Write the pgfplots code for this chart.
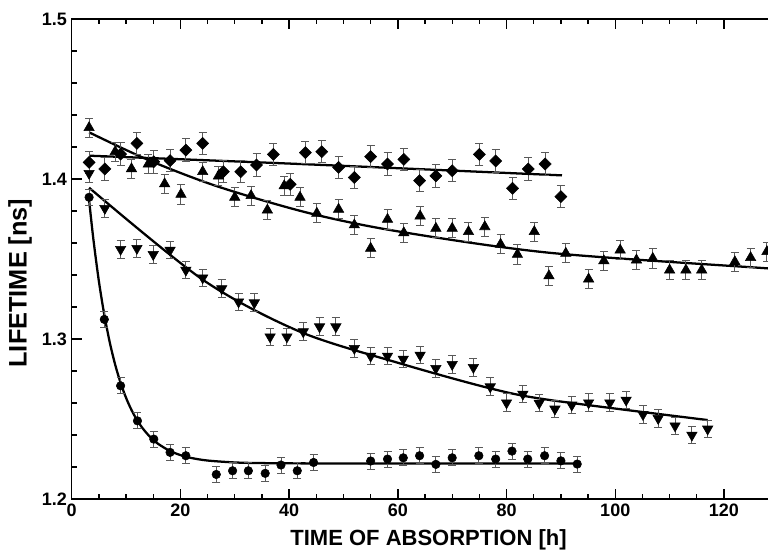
\documentclass[border=0pt]{standalone}
\usepackage{fontspec}
\setmainfont{Liberation Sans}
\usepackage{pgfplots}
\pgfplotsset{compat=1.18}

\pgfplotsset{
  errb/.style={
    error bars/.cd,
      y dir=both, y fixed=#1,
      error bar style={black!65, line width=0.7pt},
      error mark options={rotate=90, black!65, mark size=3pt, line width=0.7pt},
  },
  fit/.style={black, line width=1.7pt, no marks, smooth},
}

\begin{document}
\begin{tikzpicture}
\begin{axis}[
  scale only axis,
  width=529.9pt, height=360pt,
  xmin=0, xmax=130, ymin=1.2, ymax=1.5,
  xtick={0,20,...,120}, minor x tick num=3,
  ytick={1.2,1.3,1.4,1.5}, minor y tick num=4,
  tick align=inside,
  major tick length=7.5pt, minor tick length=3.8pt,
  tick style={black, line width=1pt},
  axis line style={line width=1.2pt},
  /pgf/number format/assume math mode=true,
  yticklabel style={/pgf/number format/fixed, /pgf/number format/fixed zerofill, /pgf/number format/precision=1},
  tick label style={font=\fontsize{13.5}{13.5}\selectfont\bfseries},
  xlabel={TIME OF ABSORPTION [h]},
  ylabel={LIFETIME [ns]},
  xlabel style={font=\fontsize{16.5}{16.5}\selectfont\bfseries, at={(axis description cs:0.505,-0.0854)}, anchor=center},
  ylabel style={font=\fontsize{19}{19}\selectfont\bfseries, at={(axis description cs:-0.0732,0.45)}, anchor=center},
]

% fitted curves
\addplot[fit] coordinates {(3.2,1.4146) (42,1.4094) (90.2,1.4023)};
\addplot[fit] coordinates {(3.2,1.4292) (14.1,1.4119) (27,1.3952) (43.8,1.3786) (60.4,1.3671) (88,1.3539) (128,1.3442) (130,1.3438)};
\addplot[fit] coordinates {(3.2,1.3946) (24.2,1.3369) (42,1.3046) (60.4,1.2848) (77,1.2692) (88,1.2619) (117,1.2494)};
\addplot[fit] coordinates {
  (3.2,1.3869) (4,1.3621) (5,1.3362) (6,1.3152) (7,1.2980) (8,1.2840) (9,1.2726)
  (10,1.2633) (11,1.2557) (12,1.2495) (13,1.2445) (14,1.2404) (15,1.2370)
  (16,1.2343) (18,1.2302) (20,1.2275) (22,1.2257) (25,1.2241) (30,1.2229)
  (35,1.2225) (45,1.2223) (70,1.2222) (93,1.2222)};

% diamonds
\addplot[only marks, mark=square*, mark size=3.2pt, mark options={rotate=45, fill=black}, errb=0.007] coordinates {
  (3.2,1.4104) (6.1,1.4063) (9.0,1.4156) (12.0,1.4223) (15.1,1.4108) (18.1,1.4115)
  (21.0,1.4181) (24.1,1.4223) (27.9,1.4046) (31.1,1.4046) (34.0,1.4088) (37.1,1.4154)
  (40.2,1.3967) (43.0,1.4165) (46.0,1.4171) (49.1,1.4073) (52.0,1.4010) (55.0,1.4140)
  (58.1,1.4094) (61.1,1.4123) (64.0,1.3990) (67.0,1.4020) (70.0,1.4052) (75.0,1.4154)
  (78.0,1.4113) (81.1,1.3942) (84.0,1.4063) (87.1,1.4094) (90.0,1.3890)};

% triangles up
\addplot[only marks, mark=triangle*, mark size=4.5pt, mark options={fill=black}, errb=0.006] coordinates {
  (3.2,1.4321) (8.0,1.4171) (11.0,1.4064) (14.1,1.4094) (17.1,1.3970) (20.1,1.3904)
  (24.1,1.4046) (27.0,1.4019) (30.0,1.3886) (33.0,1.3896) (36.0,1.3806) (39.1,1.3958)
  (42.0,1.3886) (45.1,1.3786) (49.1,1.3811) (52.0,1.3713) (55.0,1.3567) (58.1,1.3748)
  (61.1,1.3664) (64.1,1.3769) (67.0,1.3692) (70.0,1.3692) (73.0,1.3671) (76.0,1.3702)
  (78.9,1.3592) (82.0,1.3529) (85.1,1.3671) (87.8,1.3395) (90.9,1.3536) (95.1,1.3375)
  (97.9,1.3489) (100.9,1.3556) (103.9,1.3494) (106.9,1.3504) (110.0,1.3431) (113.0,1.3431)
  (115.9,1.3431) (122.0,1.3483) (124.9,1.3509) (127.9,1.3546)};

% triangles down
\addplot[only marks, mark=triangle*, mark size=4.5pt, mark options={rotate=180, fill=black}, errb=0.0055] coordinates {
  (3.2,1.4036) (6.1,1.3817) (9.0,1.3561) (12.0,1.3567) (15.0,1.3529) (18.1,1.3556)
  (21.0,1.3431) (24.1,1.3383) (27.6,1.3315) (30.7,1.3233) (33.6,1.3227) (36.5,1.3014)
  (39.6,1.3014) (42.6,1.3046) (45.6,1.3077) (48.6,1.3077) (52.0,1.2942) (55.0,1.2894)
  (58.1,1.2894) (61.0,1.2875) (64.1,1.2900) (67.0,1.2817) (70.0,1.2842) (73.9,1.2823)
  (77.0,1.2702) (80.0,1.2602) (83.0,1.2656) (86.0,1.2600) (88.9,1.2563) (92.0,1.2588)
  (95.1,1.2602) (99.0,1.2602) (102.0,1.2619) (105.1,1.2529) (107.9,1.2504) (111.0,1.2458)
  (114.1,1.2400) (117.0,1.2438)};

% circles
\addplot[only marks, mark=*, mark size=3.2pt, mark options={fill=black}, errb=0.005] coordinates {
  (3.2,1.3886) (6.0,1.3123) (9.0,1.2708) (12.1,1.2489) (15.1,1.2375) (18.1,1.2292)
  (21.0,1.2271) (26.6,1.2154) (29.6,1.2177) (32.5,1.2177) (35.6,1.2161) (38.5,1.2213)
  (41.5,1.2177) (44.5,1.2229) (55.0,1.2238) (58.1,1.2250) (61.0,1.2258) (64.0,1.2271)
  (67.0,1.2217) (70.0,1.2258) (74.9,1.2271) (78.0,1.2250) (81.0,1.2300) (83.9,1.2250)
  (87.0,1.2271) (90.0,1.2239) (93.0,1.2219)};

\coordinate (bbsw) at (axis cs:-13.19,1.1675);
\coordinate (bbne) at (axis cs:128.1,1.5119);
\end{axis}
\pgfresetboundingbox
\useasboundingbox (bbsw) rectangle (bbne);
\end{tikzpicture}
\end{document}
